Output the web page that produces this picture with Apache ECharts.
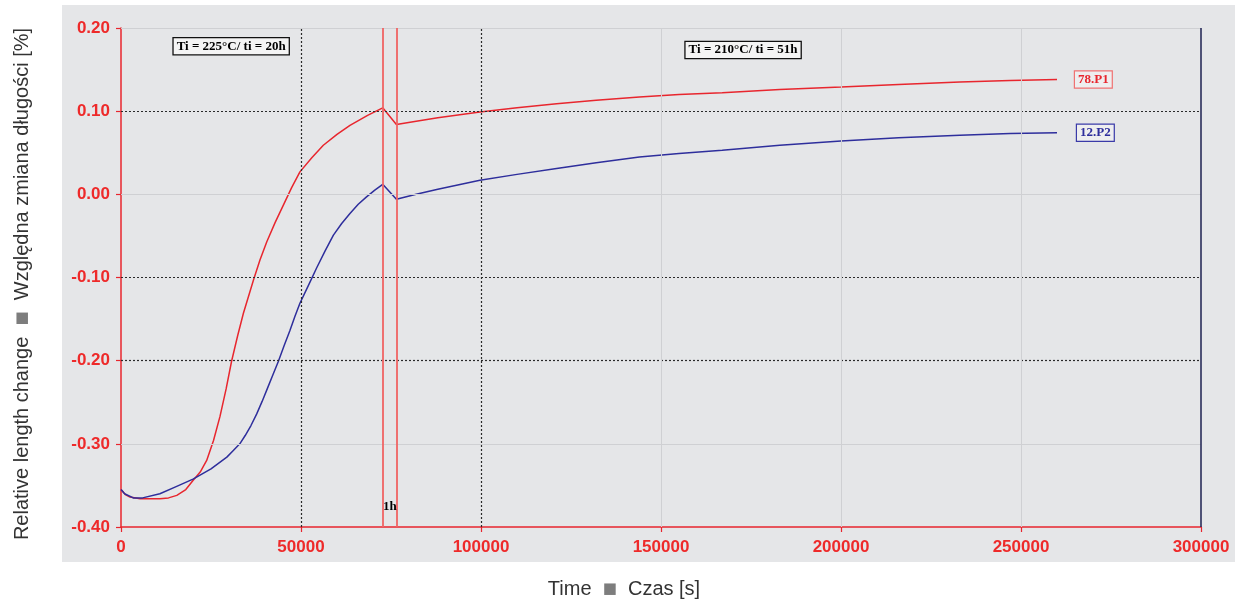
<!DOCTYPE html>
<html><head><meta charset="utf-8">
<script src="https://cdn.jsdelivr.net/npm/echarts@6/dist/echarts.min.js"></script>
<style>html,body{margin:0;padding:0;background:#fff}#c{width:1235px;height:601px}</style>
</head><body><div id="c"></div>
<script>
// ---- data ----
const seriesNames = ['78.P1', '12.P2'];
const timeP1 = [0, 1200, 2500, 5300, 8000, 10800, 13200, 15500, 18000, 20000, 22000, 23800, 25700, 27500, 29200, 30700, 32400, 34000, 36800, 38600, 40500, 42800, 45100, 47400, 49700, 53000, 56200, 60000, 63600, 68500, 72700, 76500, 82000, 88000, 99700, 110000, 121000, 132000, 144000, 155000, 167000, 183000, 200000, 216000, 233000, 247000, 260000];
const valP1  = [-0.355, -0.361, -0.364, -0.366, -0.366, -0.366, -0.365, -0.362, -0.355, -0.344, -0.334, -0.320, -0.296, -0.267, -0.234, -0.201, -0.170, -0.143, -0.103, -0.079, -0.057, -0.034, -0.013, 0.008, 0.027, 0.044, 0.059, 0.072, 0.083, 0.095, 0.104, 0.084, 0.088, 0.092, 0.099, 0.104, 0.109, 0.113, 0.117, 0.120, 0.122, 0.126, 0.129, 0.132, 0.135, 0.137, 0.138];
const timeP2 = [0, 1000, 3400, 6000, 10800, 15000, 20000, 25000, 29400, 31200, 33000, 34500, 36100, 37700, 39200, 40700, 42200, 43700, 45300, 46900, 48300, 49700, 52000, 54400, 56700, 59000, 61300, 63600, 65900, 68200, 70500, 72700, 76500, 82000, 88000, 99700, 110000, 121000, 132000, 144000, 155000, 167000, 183000, 200000, 216000, 233000, 247000, 260000];
const valP2  = [-0.355, -0.360, -0.365, -0.365, -0.360, -0.352, -0.3425, -0.330, -0.316, -0.308, -0.300, -0.290, -0.278, -0.264, -0.249, -0.233, -0.217, -0.201, -0.182, -0.164, -0.147, -0.131, -0.110, -0.088, -0.068, -0.049, -0.035, -0.023, -0.012, -0.003, 0.005, 0.012, -0.006, 0.000, 0.006, 0.017, 0.024, 0.031, 0.038, 0.045, 0.049, 0.053, 0.059, 0.064, 0.068, 0.071, 0.073, 0.074];
const markerTimes = [72700, 76500];
const markerLabel = '1h';
const noteTexts = ['Ti = 225°C/ ti = 20h', 'Ti = 210°C/ ti = 51h'];
const xTitleA = 'Time', xTitleB = 'Czas [s]';
const yTitleA = 'Relative length change';
const yTitleB = 'Względna zmiana długości [%]';

// ---- layout / style ----
const RED = '#e8262e', BLUE = '#2e2e9c', MLRED = '#f06464';
const noteAnchors = [[30600, 0.178], [172800, 0.1735]];
const markerLabelAnchor = [74700, -0.376];

const toPairs = (xs, ys) => xs.map((x, i) => [x, ys[i]]);
const dotted = {color: '#2a2a2a', width: 1.2, type: [2, 2]};
const faint = {color: '#cfd0d3', width: 1, type: 'solid'};
const sans = '"Liberation Sans", Arial, sans-serif';
const serifFont = '"Liberation Serif", "DejaVu Serif", serif';
const titleRich = {
  a: {fontFamily: sans, fontSize: 20, fill: '#333'},
  b: {fontFamily: '"DejaVu Sans", sans-serif', fontSize: 15, fill: '#7d7d7d'}
};
const titleText = (a, b) => '{a|' + a + '  }{b|■}{a|  ' + b + '}';

const chart = echarts.init(document.getElementById('c'));
const noteLabel = (t) => ({
  show: true, formatter: t, position: 'inside', color: '#000', fontFamily: serifFont,
  fontWeight: 'bold', fontSize: 13, backgroundColor: '#f4f4f4', borderColor: '#111',
  borderWidth: 1.3, padding: [2, 3, 1, 3]
});

chart.setOption({
  animation: false,
  backgroundColor: '#ffffff',
  graphic: [
    {type: 'rect', z: -10, silent: true, shape: {x: 62, y: 5, width: 1173, height: 557}, style: {fill: '#e5e6e8'}},
    {type: 'text', x: 624, y: 589, style: {
      text: titleText(xTitleA, xTitleB), align: 'center', verticalAlign: 'middle', rich: titleRich}},
    {type: 'text', x: 22, y: 284, rotation: Math.PI / 2, style: {
      text: titleText(yTitleA, yTitleB), align: 'center', verticalAlign: 'middle', rich: titleRich}}
  ],
  grid: {left: 121, right: 34, top: 28, bottom: 74, show: false},
  xAxis: {
    type: 'value', min: 0, max: 300000, interval: 50000,
    axisLine: {show: true, onZero: false, lineStyle: {color: RED, width: 1.5}},
    axisTick: {show: true, length: 5, lineStyle: {color: RED, width: 1.2}},
    axisLabel: {color: '#ee2a2a', fontWeight: 'bold', fontSize: 17, fontFamily: sans, margin: 12,
      formatter: v => String(v)},
    splitLine: {show: false}
  },
  yAxis: {
    type: 'value', min: -0.4, max: 0.2, interval: 0.1,
    axisLine: {show: true, onZero: false, lineStyle: {color: RED, width: 1.5}},
    axisTick: {show: true, length: 5, lineStyle: {color: RED, width: 1.2}},
    axisLabel: {color: '#ee2a2a', fontWeight: 'bold', fontSize: 17, fontFamily: sans, margin: 11,
      formatter: v => v.toFixed(2)},
    splitLine: {show: false}
  },
  series: [
    {
      name: 'grid', type: 'line', data: [], z: 1, silent: true,
      markLine: {
        silent: true, symbol: 'none', label: {show: false}, animation: false,
        data: [
          {yAxis: 0.2, lineStyle: faint},
          {yAxis: 0.1, lineStyle: dotted},
          {yAxis: 0.0, lineStyle: faint},
          {yAxis: -0.1, lineStyle: dotted},
          {yAxis: -0.2, lineStyle: dotted},
          {yAxis: -0.3, lineStyle: faint},
          {xAxis: 50000, lineStyle: dotted},
          {xAxis: 100000, lineStyle: dotted},
          {xAxis: 150000, lineStyle: faint},
          {xAxis: 200000, lineStyle: faint},
          {xAxis: 250000, lineStyle: faint},
          {xAxis: 300000, lineStyle: {color: '#1d2050', width: 1.5, type: 'solid'}}
        ]
      },
      markPoint: {
        silent: true, symbol: 'rect', symbolSize: 0, animation: false,
        data: [
          {coord: noteAnchors[0], label: noteLabel(noteTexts[0])},
          {coord: noteAnchors[1], label: noteLabel(noteTexts[1])},
          {coord: markerLabelAnchor, label: {show: true, formatter: markerLabel, position: 'inside', color: '#000',
            fontFamily: serifFont, fontWeight: 'bold', fontSize: 13}}
        ]
      }
    },
    {
      name: seriesNames[0], type: 'line', data: toPairs(timeP1, valP1), z: 3,
      showSymbol: false, smooth: false,
      lineStyle: {color: RED, width: 1.5}, itemStyle: {color: RED},
      endLabel: {show: true, formatter: seriesNames[0], color: RED, fontFamily: serifFont, fontWeight: 'bold', fontSize: 13,
        borderColor: '#f07272', borderWidth: 1.2, backgroundColor: '#eeeeef', padding: [2, 3, 1, 3], distance: 18},
      markLine: {
        silent: true, symbol: 'none', label: {show: false}, animation: false,
        lineStyle: {color: MLRED, width: 1.8, type: 'solid'},
        data: markerTimes.map(t => ({xAxis: t}))
      }
    },
    {
      name: seriesNames[1], type: 'line', data: toPairs(timeP2, valP2), z: 3,
      showSymbol: false, smooth: false,
      lineStyle: {color: BLUE, width: 1.5}, itemStyle: {color: BLUE},
      endLabel: {show: true, formatter: seriesNames[1], color: BLUE, fontFamily: serifFont, fontWeight: 'bold', fontSize: 13,
        borderColor: '#3a3aa8', borderWidth: 1.2, backgroundColor: '#eeeeef', padding: [2, 3, 1, 3], distance: 20}
    }
  ]
});
</script></body></html>
